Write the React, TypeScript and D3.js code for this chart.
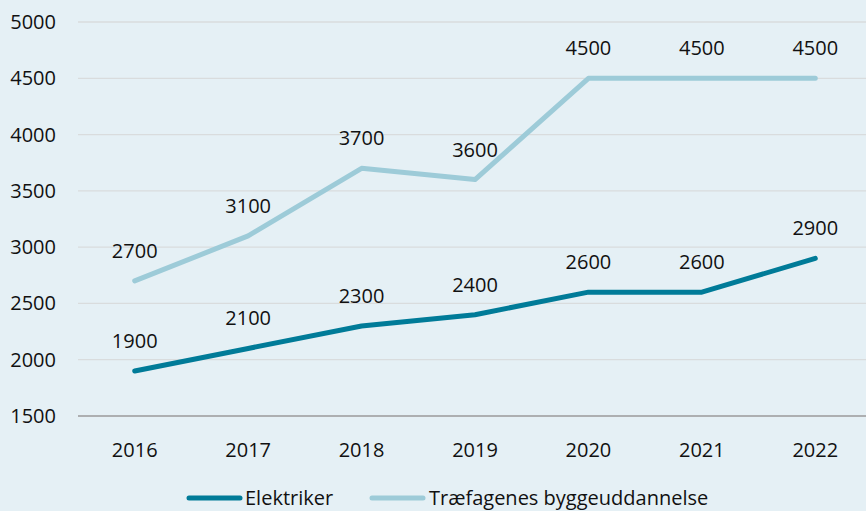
import React from "react";
import * as d3 from "d3";

const years = ["2016", "2017", "2018", "2019", "2020", "2021", "2022"];
const elektriker = [1900, 2100, 2300, 2400, 2600, 2600, 2900];
const traefag = [2700, 3100, 3700, 3600, 4500, 4500, 4500];
const yTicks = [1500, 2000, 2500, 3000, 3500, 4000, 4500, 5000];
const seriesNames = ["Elektriker", "Træfagenes byggeuddannelse"];

const W = 866, H = 511;
const FONT = "'Open Sans', 'Noto Sans', sans-serif";
const FS = 20;
const DARK = "#007b98";
const LIGHT = "#9dcbd8";

export default function App() {
  const x = d3.scaleBand<string>().domain(years).range([78, 872]);
  const y = d3.scaleLinear().domain([1500, 5000]).range([416, 22]);
  const cx = (d: string) => (x(d) as number) + x.bandwidth() / 2;
  const line = d3.line<number>().x((_, i) => cx(years[i])).y((v) => y(v));
  const series = [
    { name: seriesNames[0], data: elektriker, color: DARK },
    { name: seriesNames[1], data: traefag, color: LIGHT },
  ];
  return (
    <svg width={W} height={H} style={{ position: "absolute", left: 0, top: 0, display: "block" }}>
      <rect x={0} y={0} width={W} height={H} fill="#e5f0f5" />
      {yTicks.map((t) => (
        <g key={t}>
          <line x1={78} x2={W} y1={y(t)} y2={y(t)} stroke={t === 1500 ? "#9a9a9a" : "#d9dcdd"} strokeWidth={1.3} />
          <text x={56} y={y(t)} dy="0.35em" textAnchor="end" fontFamily={FONT} fontSize={FS} fill="#111">{t}</text>
        </g>
      ))}
      {years.map((yr) => (
        <text key={yr} x={cx(yr)} y={450} dy="0.35em" textAnchor="middle" fontFamily={FONT} fontSize={FS} fill="#111">{yr}</text>
      ))}
      {series.map((s) => (
        <g key={s.name}>
          <path d={line(s.data) || ""} fill="none" stroke={s.color} strokeWidth={5} strokeLinecap="round" strokeLinejoin="round" />
          {s.data.map((v, i) => (
            <text key={i} x={cx(years[i])} y={y(v) - 23} textAnchor="middle" fontFamily={FONT} fontSize={FS} fill="#111">{v}</text>
          ))}
        </g>
      ))}
      <g>
        <line x1={189} x2={240} y1={498} y2={498} stroke={DARK} strokeWidth={5} strokeLinecap="round" />
        <text x={245} y={498} dy="0.35em" fontFamily={FONT} fontSize={FS} fill="#111">{seriesNames[0]}</text>
        <line x1={372} x2={423} y1={498} y2={498} stroke={LIGHT} strokeWidth={5} strokeLinecap="round" />
        <text x={429} y={498} dy="0.35em" fontFamily={FONT} fontSize={FS} fill="#111">{seriesNames[1]}</text>
      </g>
    </svg>
  );
}
